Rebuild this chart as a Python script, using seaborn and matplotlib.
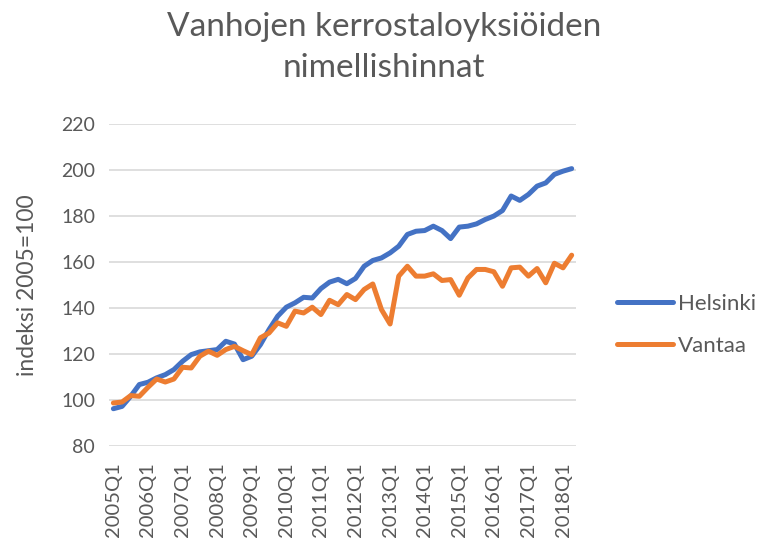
import matplotlib
matplotlib.use('Agg')
import matplotlib.pyplot as plt
import numpy as np
import pandas as pd
import seaborn as sns

# Neljännekset 2005Q1 - 2018Q2
vuodet = list(range(2005, 2019))
neljannekset = [f'{v}Q{q}' for v in vuodet for q in range(1, 5)][:54]

helsinki = [96.2, 97.2, 101.6, 106.7, 107.7, 109.6, 111.0, 113.2, 116.8, 119.7,
            120.9, 121.4, 121.9, 125.5, 124.3, 117.5, 119.0, 124.0, 130.6, 136.4,
            140.3, 142.2, 144.6, 144.3, 148.4, 151.2, 152.4, 150.5, 152.8, 158.1,
            160.6, 161.7, 163.9, 166.8, 171.9, 173.3, 173.6, 175.5, 173.6, 170.1,
            175.1, 175.5, 176.5, 178.4, 179.9, 182.3, 188.6, 186.7, 189.3, 192.9,
            194.3, 198.0, 199.4, 200.5]

vantaa = [98.7, 99.1, 101.9, 101.6, 105.5, 109.1, 107.8, 109.1, 114.2, 113.9,
          119.0, 121.2, 119.4, 121.9, 123.3, 121.4, 119.7, 127.0, 129.1, 133.5,
          132.0, 138.6, 137.8, 140.3, 137.1, 143.3, 141.4, 145.8, 143.6, 148.0,
          150.4, 139.3, 133.0, 153.8, 158.1, 153.8, 153.8, 154.8, 151.9, 152.3,
          145.5, 153.0, 156.7, 156.7, 155.7, 149.4, 157.4, 157.7, 153.8, 157.1,
          150.9, 159.4, 157.4, 162.9]

df = pd.DataFrame({
    'idx': list(range(len(neljannekset))) * 2,
    'arvo': helsinki + vantaa,
    'alue': ['Helsinki'] * len(helsinki) + ['Vantaa'] * len(vantaa),
})

sns.set_style('white')
plt.rcParams['font.family'] = ['Lato', 'DejaVu Sans']
harmaa = '#595959'

fig = plt.figure(figsize=(7.68, 5.38), dpi=100)
ax = fig.add_axes([0.142, 0.171, 0.608, 0.599])

sns.lineplot(data=df, x='idx', y='arvo', hue='alue',
             palette={'Helsinki': '#4472C4', 'Vantaa': '#ED7D31'},
             linewidth=3.6, ax=ax)

ax.set_xlim(-0.5, len(neljannekset) - 0.5)
ax.set_ylim(80, 220)
ax.set_yticks(range(80, 221, 20))
ax.set_xticks(range(0, len(neljannekset), 4))
ax.set_xticklabels(neljannekset[::4], rotation=90)
ax.tick_params(axis='both', colors=harmaa, length=0)
ax.tick_params(axis='y', labelsize=14, pad=10)
ax.tick_params(axis='x', labelsize=14.5, pad=12)
ax.grid(axis='y', color='#d9d9d9', linewidth=1.2)
ax.set_axisbelow(True)
for s in ax.spines.values():
    s.set_visible(False)

ax.set_xlabel('')
ax.set_ylabel('indeksi 2005=100', color=harmaa, fontsize=16.5)
ax.yaxis.set_label_coords(-0.152, 0.5)

fig.suptitle('Vanhojen kerrostaloyksiöiden\nnimellishinnat', x=0.5, y=0.978,
             va='top', color=harmaa, fontsize=24, linespacing=1.45)

ax.legend(title=None, frameon=False, loc='center left',
          bbox_to_anchor=(1.088, 0.376), borderaxespad=0, borderpad=0,
          fontsize=16, labelcolor=harmaa, handlelength=2.5,
          handletextpad=0.25, labelspacing=1.0)

fig.savefig('out.png', dpi=100)
